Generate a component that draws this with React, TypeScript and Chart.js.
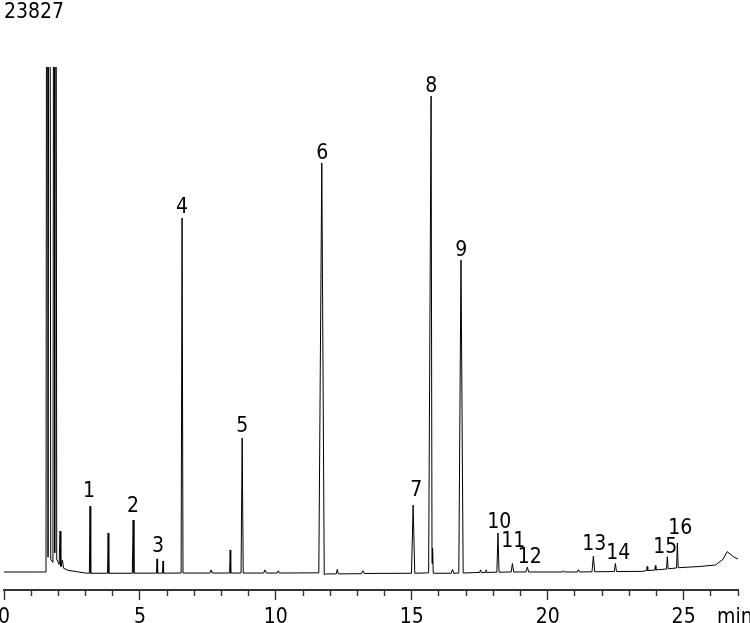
import React, { useEffect, useRef } from 'react';
import { Chart, registerables } from 'chart.js';

Chart.register(...registerables);

// Retention time (min) and detector signal of the chromatogram trace (vertices)
const traceTime = [
  0, 1.2, 1.545, 1.585, 1.62, 1.67, 1.72, 1.8, 1.845, 1.865, 1.895, 1.94, 2.03, 2.06, 2.09, 2.15, 2.19, 2.35, 2.7, 3.0,
  3.14, 3.165, 3.19,
  3.81, 3.83, 3.855,
  4.72, 4.75, 4.78,
  5.61, 5.63, 5.65, 5.83, 5.85, 5.87,
  6.515, 6.55, 6.585,
  7.58, 7.62, 7.66,
  8.3, 8.32, 8.34,
  8.72, 8.76, 8.8,
  9.55, 9.6, 9.65, 10.05, 10.09, 10.13,
  11.58, 11.69, 11.78, 11.86,
  12.22, 12.26, 12.3, 13.15, 13.2, 13.25,
  14.99, 15.05, 15.11,
  15.62, 15.71, 15.745, 15.765, 15.79,
  16.45, 16.5, 16.54,
  16.73, 16.81, 16.89,
  17.5, 17.53, 17.56, 17.7, 17.73, 17.76,
  18.13, 18.17, 18.21,
  18.66, 18.7, 18.75,
  19.2, 19.25, 19.3,
  20.55, 20.58, 20.62, 21.09, 21.13, 21.17,
  21.63, 21.68, 21.73,
  22.45, 22.49, 22.53,
  23.5, 23.64, 23.66, 23.68, 23.94, 23.96, 23.98,
  24.37, 24.4, 24.43,
  24.74, 24.77, 24.8,
  25.6, 26.17, 26.45, 26.6, 26.83, 27.0,
];
const traceSignal = [
  0, 0, 0, 60000, 700, 60000, 600, 450, 60000, 900, 60000, 600, 350, 1930, 250, 560, 180, 80, 10, -50,
  -60, 3100, -60,
  -60, 1840, -60,
  -60, 2450, -55,
  -55, 620, -55, -55, 520, -55,
  -50, 16700, -50,
  -50, 100, -50,
  -50, 1040, -50,
  -50, 6320, -50,
  -50, 100, -50, -50, 60, -50,
  -40, 19300, -120, -90,
  -90, 120, -90, -80, 60, -70,
  -60, 3160, -60,
  -40, 22460, 400, 1130, -60,
  -60, 120, -60,
  -50, 14720, -50,
  -20, 100, -20, -20, 100, -20,
  -10, 1840, -10,
  0, 400, 0,
  0, 230, 0,
  0, 60, 0, 0, 110, 0,
  10, 750, 10,
  20, 400, 20,
  30, 70, 260, 70, 90, 300, 100,
  140, 720, 150,
  190, 1370, 200,
  260, 330, 600, 960, 720, 610,
];

// Peak numbers and where their labels sit (time, signal level of the label baseline)
const peakLabels = ['1', '2', '3', '4', '5', '6', '7', '8', '9', '10', '11', '12', '13', '14', '15', '16'];
const labelTime = [3.128, 4.748, 5.668, 6.551, 8.76, 11.704, 15.164, 15.716, 16.82, 18.219, 18.734, 19.341, 21.715, 22.598, 24.328, 24.88];
const labelLevel = [3539, 2831, 944, 16938, 6605, 19485, 3586, 22646, 14909, 2076, 1180, 425, 1038, 613, 896, 1793];

const xMin = 0;
const xMax = 27;
const xStep = 1;
const xLabelEvery = 5;
const yMin = -850;
const yMax = 23827;
const maxLabel = '23827';
const unitLabel = 'min';

const FONT = '"DejaVu Sans Condensed", "Noto Sans", sans-serif';

const annotPlugin = {
  id: 'annot',
  afterDatasetsDraw(chart: any) {
    const { ctx, scales, chartArea } = chart;
    const x = scales.x;
    const y = scales.y;
    ctx.save();
    ctx.fillStyle = '#000';
    ctx.font = `21px ${FONT}`;
    ctx.textAlign = 'center';
    ctx.textBaseline = 'alphabetic';
    peakLabels.forEach((l, i) => {
      ctx.fillText(l, x.getPixelForValue(labelTime[i]), y.getPixelForValue(labelLevel[i]));
    });
    ctx.textAlign = 'left';
    ctx.fillText(maxLabel, 4, 18);
    ctx.fillText(unitLabel, chartArea.right - 21, chartArea.bottom + 33);
    ctx.restore();
  },
};

export default function App() {
  const ref = useRef<HTMLCanvasElement | null>(null);
  useEffect(() => {
    if (!ref.current) return;
    const chart = new Chart(ref.current, {
      type: 'line',
      data: {
        datasets: [
          {
            data: traceTime.map((t, i) => ({ x: t, y: traceSignal[i] })),
            borderColor: '#000',
            borderWidth: 1,
            pointRadius: 0,
            tension: 0,
            fill: false,
          },
        ],
      },
      options: {
        animation: false,
        responsive: false,
        devicePixelRatio: 1,
        layout: { padding: { left: 4, right: 12, top: 67, bottom: 0 } },
        plugins: { legend: { display: false }, tooltip: { enabled: false }, title: { display: false } },
        scales: {
          x: {
            type: 'linear',
            position: 'bottom',
            min: xMin,
            max: xMax,
            border: { display: true, color: '#333', width: 2 },
            grid: {
              drawOnChartArea: false,
              drawTicks: true,
              tickLength: 10,
              tickColor: '#333',
              tickWidth: 1.4,
              tickBorderDash: (c: any) =>
                c.tick && Math.round(c.tick.value) % xLabelEvery === 0 ? [] : [5, 30],
            },
            ticks: {
              stepSize: xStep,
              autoSkip: false,
              maxRotation: 0,
              padding: 5,
              color: '#000',
              font: { size: 21, family: FONT },
              callback: (v: any) => (Math.round(v) % xLabelEvery === 0 && v < xMax ? String(v) : ''),
            },
            afterFit: (s: any) => {
              s.height = 33;
              s.paddingLeft = 0;
              s.paddingRight = 0;
            },
          },
          y: { display: false, min: yMin, max: yMax },
        },
      },
      plugins: [annotPlugin],
    } as any);
    return () => chart.destroy();
  }, []);
  return (
    <div style={{ position: 'fixed', left: 0, top: 0, width: 750, height: 623 }}>
      <canvas ref={ref} width={750} height={623} />
    </div>
  );
}
